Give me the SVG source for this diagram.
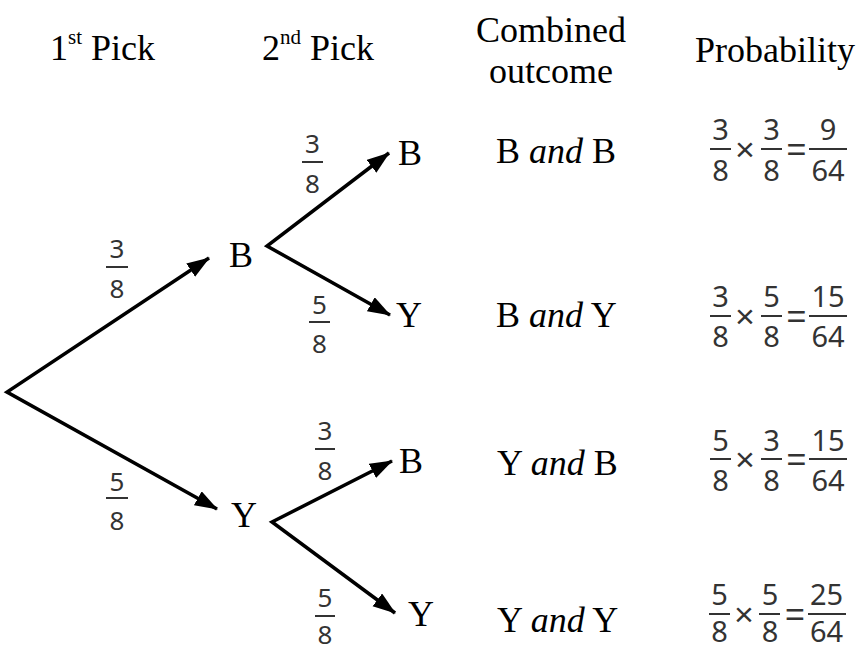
<svg xmlns="http://www.w3.org/2000/svg" width="862" height="651" viewBox="0 0 862 651">
<style>
.t{font-family:"Liberation Serif","Times New Roman",serif;font-size:36px;fill:#000}
.f{font-family:"Noto Sans","Open Sans",sans-serif;font-size:26px;fill:#333;text-anchor:middle}
.p{font-family:"Noto Sans","Open Sans",sans-serif;font-size:29px;fill:#333;text-anchor:middle}
.op{font-family:"Liberation Sans",Arial,sans-serif;font-size:34px;fill:#333;text-anchor:middle}
.bar{stroke:#333;stroke-width:2}
.edge{fill:none;stroke:#000;stroke-width:3.5;stroke-linejoin:miter;marker-start:url(#ah);marker-end:url(#ah)}
</style>
<defs>
<marker id="ah" markerUnits="userSpaceOnUse" markerWidth="23" markerHeight="17" refX="22" refY="8" orient="auto-start-reverse">
<path d="M0,0 L23,8 L0,16 Z" fill="#000"/>
</marker>
</defs>
<rect width="862" height="651" fill="#fff"/>
<g id="headers">
<text class="t" x="50" y="60">1<tspan font-size="21" dy="-16">st</tspan><tspan dy="16"> Pick</tspan></text>
<text class="t" x="262" y="60">2<tspan font-size="21" dy="-16">nd</tspan><tspan dy="16"> Pick</tspan></text>
<text class="t" x="551" y="42" text-anchor="middle">Combined</text>
<text class="t" x="551" y="83" text-anchor="middle">outcome</text>
<text class="t" x="695" y="62">Probability</text>
</g>
<g id="connectors">
<path class="edge" d="M209,258 L7,392 L217,509"/>
<path class="edge" d="M389,153 L267,246 L390,315"/>
<path class="edge" d="M392,461 L272,522 L395,613"/>
</g>
<g id="node-B1"><text class="t" x="229" y="267">B</text></g>
<g id="node-Y1"><text class="t" x="231" y="527">Y</text></g>
<g id="node-BB"><text class="t" x="398" y="165">B</text></g>
<g id="node-BY"><text class="t" x="396" y="327">Y</text></g>
<g id="node-YB"><text class="t" x="399" y="473">B</text></g>
<g id="node-YY"><text class="t" x="408" y="626">Y</text></g>
<g id="edge-labels">
<text class="f" x="117" y="258">3</text><line class="bar" x1="106" y1="267" x2="128" y2="267"/><text class="f" x="117" y="298">8</text>
<text class="f" x="117" y="491">5</text><line class="bar" x1="106" y1="498" x2="128" y2="498"/><text class="f" x="117" y="530">8</text>
<text class="f" x="312.5" y="153">3</text><line class="bar" x1="302" y1="162" x2="323" y2="162"/><text class="f" x="312.5" y="193">8</text>
<text class="f" x="319.5" y="314">5</text><line class="bar" x1="309" y1="322" x2="330" y2="322"/><text class="f" x="319.5" y="353">8</text>
<text class="f" x="325" y="440">3</text><line class="bar" x1="315" y1="449" x2="335" y2="449"/><text class="f" x="325" y="480">8</text>
<text class="f" x="325" y="607">5</text><line class="bar" x1="315" y1="616" x2="335" y2="616"/><text class="f" x="325" y="644">8</text>
</g>
<g id="outcomes">
<text class="t" x="496" y="163">B <tspan font-style="italic">and</tspan> B</text>
<text class="t" x="496" y="327">B <tspan font-style="italic">and</tspan> Y</text>
<text class="t" x="497" y="475">Y <tspan font-style="italic">and</tspan> B</text>
<text class="t" x="497" y="632">Y <tspan font-style="italic">and</tspan> Y</text>
</g>
<g id="prob-1">
<text class="p" x="720.5" y="140">3</text><line class="bar" x1="710" y1="149" x2="731" y2="149"/><text class="p" x="720.5" y="181">8</text>
<text class="op" x="745" y="161">×</text>
<text class="p" x="771.5" y="140">3</text><line class="bar" x1="761" y1="149" x2="782" y2="149"/><text class="p" x="771.5" y="181">8</text>
<text class="op" x="796.5" y="161">=</text>
<text class="p" x="828" y="140">9</text><line class="bar" x1="809" y1="149" x2="847" y2="149"/><text class="p" x="828" y="181">64</text>
</g>
<g id="prob-2">
<text class="p" x="720.5" y="307">3</text><line class="bar" x1="710" y1="316" x2="731" y2="316"/><text class="p" x="720.5" y="347">8</text>
<text class="op" x="745" y="328">×</text>
<text class="p" x="771.5" y="307">5</text><line class="bar" x1="761" y1="316" x2="782" y2="316"/><text class="p" x="771.5" y="347">8</text>
<text class="op" x="796.5" y="328">=</text>
<text class="p" x="828" y="307">15</text><line class="bar" x1="809" y1="316" x2="847" y2="316"/><text class="p" x="828" y="347">64</text>
</g>
<g id="prob-3">
<text class="p" x="720.5" y="451">5</text><line class="bar" x1="710" y1="459" x2="731" y2="459"/><text class="p" x="720.5" y="491">8</text>
<text class="op" x="745" y="471">×</text>
<text class="p" x="771.5" y="451">3</text><line class="bar" x1="761" y1="459" x2="782" y2="459"/><text class="p" x="771.5" y="491">8</text>
<text class="op" x="796.5" y="471">=</text>
<text class="p" x="828" y="451">15</text><line class="bar" x1="809" y1="459" x2="847" y2="459"/><text class="p" x="828" y="491">64</text>
</g>
<g id="prob-4">
<text class="p" x="719.5" y="605">5</text><line class="bar" x1="709" y1="614" x2="730" y2="614"/><text class="p" x="719.5" y="642">8</text>
<text class="op" x="744" y="626">×</text>
<text class="p" x="770" y="605">5</text><line class="bar" x1="759" y1="614" x2="780" y2="614"/><text class="p" x="770" y="642">8</text>
<text class="op" x="795" y="626">=</text>
<text class="p" x="826.5" y="605">25</text><line class="bar" x1="808" y1="614" x2="846" y2="614"/><text class="p" x="826.5" y="642">64</text>
</g>
</svg>
